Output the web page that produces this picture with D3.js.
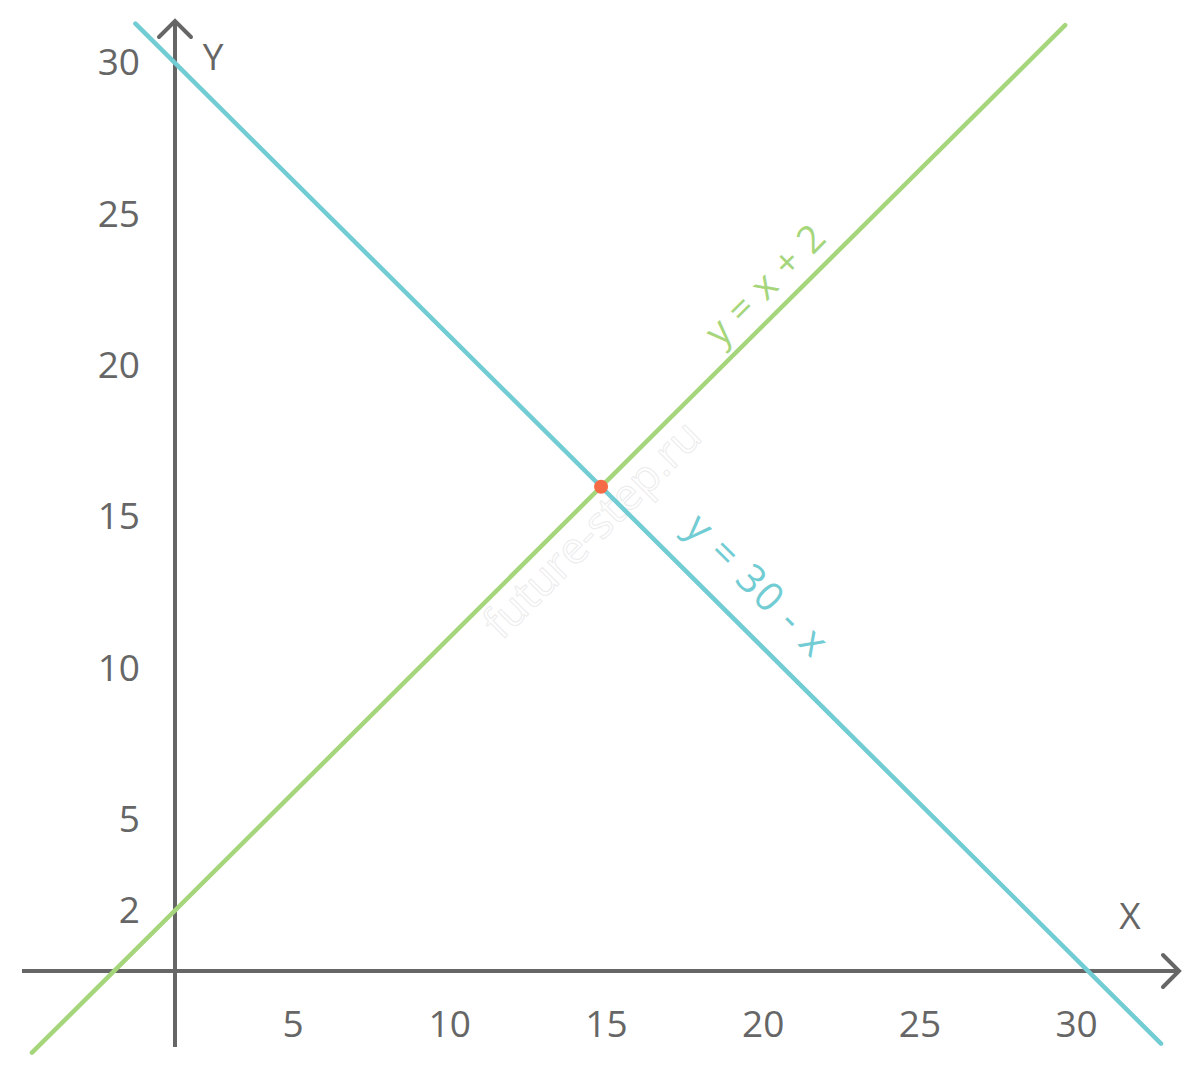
<!DOCTYPE html>
<html>
<head>
<meta charset="utf-8">
<script src="https://cdn.jsdelivr.net/npm/d3@7"></script>
<style>
  body { margin: 0; background: #fff; }
  text { font-family: "Open Sans", "Noto Sans", sans-serif; fill: #666; }
</style>
</head>
<body>
<div id="chart"></div>
<script>
// dati
var xTicks = [5, 10, 15, 20, 25, 30];
var yTicks = [2, 5, 10, 15, 20, 25, 30];
var greenLine = [[-4.7, -2.7], [29.25, 31.25]]; // y = x + 2
var blueLine = [[-1.3, 31.3], [32.4, -2.4]];    // y = 30 - x
var crossPoint = [14, 16];
var greenLabel = "y = x + 2";
var blueLabel = "y = 30 - x";

var width = 1200, height = 1076;
var gridColor = "#666";

var x = d3.scaleLinear().domain([0, 30]).range([175, 1088]);
var y = d3.scaleLinear().domain([0, 30]).range([971, 63]);

var svg = d3.select("#chart").append("svg")
  .attr("width", width)
  .attr("height", height);

// ūdenszīme
svg.append("text")
  .attr("transform", "translate(603,540) rotate(-45)")
  .attr("text-anchor", "middle")
  .style("font-size", "44px")
  .style("fill", "none")
  .style("stroke", "#ececec")
  .style("stroke-width", 1)
  .text("future-step.ru");

// asis
var axes = svg.append("g").attr("class", "axes")
  .style("stroke", gridColor)
  .style("stroke-width", 4)
  .style("fill", "none");

axes.append("line")
  .attr("x1", x(0)).attr("y1", 1047)
  .attr("x2", x(0)).attr("y2", 21);
axes.append("path")
  .attr("d", "M" + (x(0) - 16) + ",37 L" + x(0) + ",21 L" + (x(0) + 16) + ",37")
  .style("stroke-linecap", "round");

axes.append("line")
  .attr("x1", 22).attr("y1", y(0))
  .attr("x2", 1179).attr("y2", y(0));
axes.append("path")
  .attr("d", "M1163," + (y(0) - 16) + " L1179," + y(0) + " L1163," + (y(0) + 16))
  .style("stroke-linecap", "round");

// ass nosaukumi
svg.append("text")
  .attr("x", x(0) + 38).attr("y", 57)
  .attr("dy", ".36em")
  .attr("text-anchor", "middle")
  .style("font-size", "37px")
  .text("Y");
svg.append("text")
  .attr("x", 1130).attr("y", 916)
  .attr("dy", ".36em")
  .attr("text-anchor", "middle")
  .style("font-size", "37px")
  .text("X");

// iedaļu uzraksti
svg.append("g").selectAll("text")
  .data(xTicks)
  .enter().append("text")
  .attr("x", function(d){ return x(d) * 1.03 - 44; })
  .attr("y", 1024)
  .attr("dy", ".36em")
  .attr("text-anchor", "middle")
  .style("font-size", "37px")
  .text(function(d){ return d; });

svg.append("g").selectAll("text")
  .data(yTicks)
  .enter().append("text")
  .attr("x", 140)
  .attr("y", function(d){ return y(d) - 1; })
  .attr("dy", ".36em")
  .attr("text-anchor", "end")
  .style("font-size", "37px")
  .text(function(d){ return d; });

// līnijas
var line = d3.line()
  .x(function(d){ return x(d[0]); })
  .y(function(d){ return y(d[1]); });

svg.append("path")
  .datum(greenLine)
  .attr("d", line)
  .style("fill", "none")
  .style("stroke", "#a6d67c")
  .style("stroke-width", 4.5)
  .style("stroke-linecap", "round");

svg.append("path")
  .datum(blueLine)
  .attr("d", line)
  .style("fill", "none")
  .style("stroke", "#72ccd3")
  .style("stroke-width", 4.5)
  .style("stroke-linecap", "round");

svg.append("circle")
  .attr("cx", x(crossPoint[0]))
  .attr("cy", y(crossPoint[1]))
  .attr("r", 7)
  .style("fill", "#f56b45");

// funkciju uzraksti
svg.append("text")
  .attr("transform", "translate(765,284) rotate(-45)")
  .attr("text-anchor", "middle")
  .attr("dy", ".36em")
  .style("font-size", "38px")
  .style("letter-spacing", "1px")
  .style("fill", "#a6d67c")
  .text(greenLabel);

svg.append("text")
  .attr("transform", "translate(758,585) rotate(45)")
  .attr("text-anchor", "middle")
  .attr("dy", ".36em")
  .style("font-size", "40px")
  .style("letter-spacing", "2px")
  .style("fill", "#72ccd3")
  .text(blueLabel);
</script>
</body>
</html>
